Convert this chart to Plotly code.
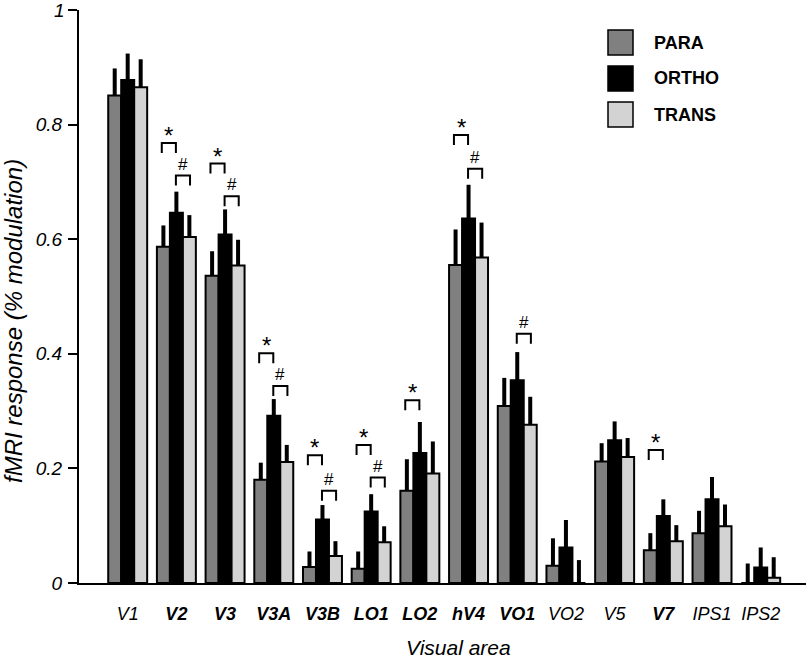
import plotly.graph_objects as go

# ---------------- data ----------------
categories = ["V1", "V2", "V3", "V3A", "V3B", "LO1", "LO2", "hV4", "VO1", "VO2", "V5", "V7", "IPS1", "IPS2"]
bold_cats = ["V2", "V3", "V3A", "V3B", "LO1", "LO2", "hV4", "VO1", "V7"]

para = [0.851, 0.587, 0.536, 0.180, 0.028, 0.025, 0.161, 0.555, 0.309, 0.030, 0.212, 0.057, 0.087, 0.0]
para_err = [0.047, 0.037, 0.043, 0.030, 0.027, 0.030, 0.055, 0.062, 0.049, 0.048, 0.032, 0.030, 0.039, 0.034]
ortho = [0.878, 0.646, 0.608, 0.292, 0.111, 0.125, 0.227, 0.636, 0.354, 0.062, 0.249, 0.117, 0.146, 0.027]
ortho_err = [0.046, 0.037, 0.044, 0.029, 0.025, 0.030, 0.054, 0.059, 0.049, 0.048, 0.033, 0.029, 0.039, 0.035]
trans = [0.865, 0.604, 0.554, 0.211, 0.047, 0.071, 0.191, 0.568, 0.276, 0.0, 0.220, 0.073, 0.099, 0.009]
trans_err = [0.049, 0.038, 0.045, 0.030, 0.026, 0.028, 0.056, 0.061, 0.049, 0.040, 0.033, 0.028, 0.038, 0.036]

# significance brackets (* : PARA vs ORTHO, # : ORTHO vs TRANS), bracket top level
star_cats = ["V2", "V3", "V3A", "V3B", "LO1", "LO2", "hV4", "V7"]
star_levels = [0.768, 0.732, 0.401, 0.223, 0.241, 0.319, 0.782, 0.232]
hash_cats = ["V2", "V3", "V3A", "V3B", "LO1", "hV4", "VO1"]
hash_levels = [0.711, 0.675, 0.344, 0.161, 0.184, 0.723, 0.435]

y_tickvals = [0, 0.2, 0.4, 0.6, 0.8, 1]
y_ticktext = ["0", "0.2", "0.4", "0.6", "0.8", "1"]

series_names = ["PARA", "ORTHO", "TRANS"]
series_colors = ["#808080", "#000000", "#d3d3d3"]

# ---------------- figure ----------------
FONT = "Liberation Sans, Arial, sans-serif"
W, H = 809, 660
ML, MR, MT, MB = 79, 3, 10, 77
TICKLEN, STANDOFF, TICKSIZE = 9, 2, 19

x_idx = list(range(len(categories)))
fig = go.Figure()
for name, vals, errs, col in zip(series_names, [para, ortho, trans], [para_err, ortho_err, trans_err], series_colors):
    fig.add_trace(go.Bar(
        x=x_idx, y=vals, name=name,
        marker=dict(color=col, line=dict(color="black", width=2)),
        error_y=dict(type="data", symmetric=False, array=errs, arrayminus=[0] * len(errs),
                     color="black", thickness=4, width=0),
        showlegend=False,
    ))

# brackets
leg = 0.0175
shapes = []
annotations = []
for cat, lvl in zip(star_cats, star_levels):
    i = categories.index(cat)
    x0, x1 = i - 0.30, i - 0.01
    shapes.append(dict(type="path", xref="x", yref="y",
                       path=f"M {x0},{lvl-leg} L {x0},{lvl} L {x1},{lvl} L {x1},{lvl-leg}",
                       line=dict(color="black", width=2)))
    annotations.append(dict(x=(x0 + x1) / 2, y=lvl, xref="x", yref="y", text="*", showarrow=False,
                            yanchor="bottom", yshift=-8, font=dict(family=FONT, size=24, color="black")))
for cat, lvl in zip(hash_cats, hash_levels):
    i = categories.index(cat)
    x0, x1 = i - 0.01, i + 0.28
    shapes.append(dict(type="path", xref="x", yref="y",
                       path=f"M {x0},{lvl-leg} L {x0},{lvl} L {x1},{lvl} L {x1},{lvl-leg}",
                       line=dict(color="black", width=2)))
    annotations.append(dict(x=(x0 + x1) / 2, y=lvl, xref="x", yref="y", text="#", showarrow=False,
                            yanchor="bottom", yshift=0, font=dict(family=FONT, size=17, color="black")))

# pixel -> paper helpers (layout only)
PW = W - ML - MR
PH = H - MT - MB
def px(x):
    return (x - ML) / PW
def py(y):
    return (H - MB - y) / PH

# manual legend
legend_rows = [(30, 55), (66, 91), (102, 127)]
for (y0, y1), name, col in zip(legend_rows, series_names, series_colors):
    shapes.append(dict(type="rect", xref="paper", yref="paper",
                       x0=px(608), x1=px(633), y0=py(y1), y1=py(y0),
                       fillcolor=col, line=dict(color="black", width=1.5)))
    annotations.append(dict(x=px(652), y=py((y0 + y1) / 2), xref="paper", yref="paper",
                            text=f"<b>{name}</b>", showarrow=False, xanchor="left", yanchor="middle",
                            font=dict(family=FONT, size=18, color="black")))

# axis titles
annotations.append(dict(x=px(458), y=py(647), xref="paper", yref="paper", text="<i>Visual area</i>",
                        showarrow=False, xanchor="center", yanchor="middle",
                        font=dict(family=FONT, size=21, color="black")))
annotations.append(dict(x=px(14), y=py(321), xref="paper", yref="paper",
                        text="<i>fMRI response (% modulation)</i>", textangle=-90,
                        showarrow=False, xanchor="center", yanchor="middle",
                        font=dict(family=FONT, size=24, color="black")))

# top y tick label drawn as annotation (it sits at the very top edge of the page)
top_label = y_ticktext[-1]
annotations.append(dict(x=0, y=y_tickvals[-1], xref="paper", yref="y", text=f"<i>{top_label}</i>",
                        showarrow=False, xanchor="right", yanchor="middle",
                        xshift=-(TICKLEN + STANDOFF + 1),
                        font=dict(family=FONT, size=TICKSIZE, color="black")))
axis_ticktext = [f"<i>{t}</i>" for t in y_ticktext[:-1]] + [""]

x_ticktext = [f"<b><i>{c}</i></b>" if c in bold_cats else f"<i>{c}</i>" for c in categories]

fig.update_layout(
    width=W, height=H,
    margin=dict(l=ML, r=MR, t=MT, b=MB, pad=0),
    paper_bgcolor="white", plot_bgcolor="white",
    barmode="group", bargap=0.2, bargroupgap=0,
    shapes=shapes, annotations=annotations,
    font=dict(family=FONT, color="black"),
    xaxis=dict(range=[-1, 13.93], tickvals=x_idx, ticktext=x_ticktext, showgrid=False, zeroline=False,
               showline=True, linecolor="black", linewidth=2, ticks="", ticklabelstandoff=13,
               tickfont=dict(family=FONT, size=18, color="black"), fixedrange=True),
    yaxis=dict(range=[0, 1], tickvals=y_tickvals, ticktext=axis_ticktext,
               showgrid=False, zeroline=False, showline=True, linecolor="black", linewidth=2,
               ticks="outside", ticklen=TICKLEN, tickwidth=2, tickcolor="black", ticklabelstandoff=STANDOFF,
               tickfont=dict(family=FONT, size=TICKSIZE, color="black"), fixedrange=True),
)

fig.write_html("out.html", config={"displayModeBar": False},
               post_script="document.body.style.margin='0px';")
